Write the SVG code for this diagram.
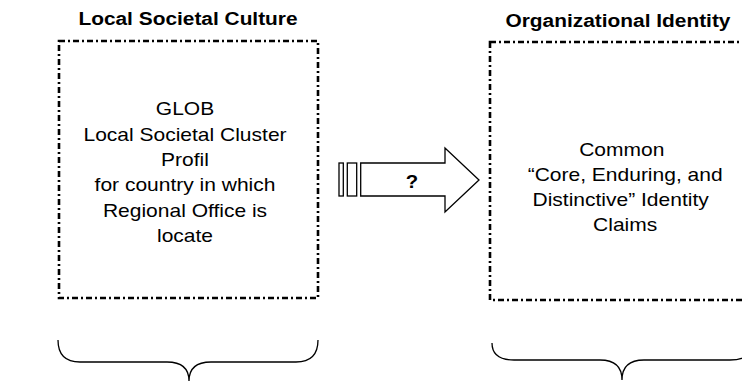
<svg xmlns="http://www.w3.org/2000/svg" width="742" height="381" viewBox="0 0 742 381">
<style>
.title{font-family:"Liberation Sans",Arial,sans-serif;font-weight:bold;font-size:18px;fill:#000;text-anchor:middle}
.body{font-family:"Liberation Sans",Arial,sans-serif;font-size:18.6px;fill:#000;text-anchor:middle}
.box{fill:none;stroke:#000;stroke-width:2.6;stroke-dasharray:6 3 2 3}
.line{fill:none;stroke:#000;stroke-width:1.3}
.shape{fill:#fff;stroke:#000;stroke-width:1.3}
</style>
<rect width="742" height="381" fill="#fff"/>
<g id="culture">
<rect class="box" x="59" y="41" width="259" height="257"/>
<g transform="translate(188,0) scale(1.16,1)">
<text class="title" x="0" y="25">Local Societal Culture</text>
</g>
<g transform="translate(185,0) scale(1.13,1)">
<text class="body" x="0" y="115">GLOB</text>
<text class="body" x="0" y="141">Local Societal Cluster</text>
<text class="body" x="0" y="166">Profil</text>
<text class="body" x="0" y="191">for country in which</text>
<text class="body" x="0" y="217">Regional Office is</text>
<text class="body" x="0" y="242">locate</text>
</g>
</g>
<g id="identity">
<rect class="box" x="490" y="42" width="270" height="258"/>
<g transform="translate(618,0) scale(1.16,1)">
<text class="title" x="0" y="27">Organizational Identity</text>
</g>
<g transform="translate(624,0) scale(1.13,1)">
<text class="body" x="-2" y="156">Common</text>
<text class="body" x="1" y="181">“Core, Enduring, and</text>
<text class="body" x="-3" y="206">Distinctive” Identity</text>
<text class="body" x="1" y="231">Claims</text>
</g>
</g>
<g id="connectors">
<rect class="shape" x="339" y="163" width="4.3" height="33"/>
<rect class="shape" x="347.3" y="163" width="9.4" height="33"/>
<path class="shape" d="M360.7,163 L445,163 L445,148 L479,180 L445,212 L445,196 L360.7,196 Z"/>
<g transform="translate(412,0) scale(1.13,1)">
<text class="title" x="0" y="188">?</text>
</g>
</g>
<g id="braces">
<path class="line" d="M58,340 Q58,362 80,362 L167,362 Q189,362 189,381 Q189,362 211,362 L296,362 Q318,362 318,340"/>
<path class="line" d="M492,343 Q492,360 514,360 L600,360 Q622,360 622,380 Q622,360 644,360 L730,360 Q752,360 752,343"/>
</g>
</svg>
